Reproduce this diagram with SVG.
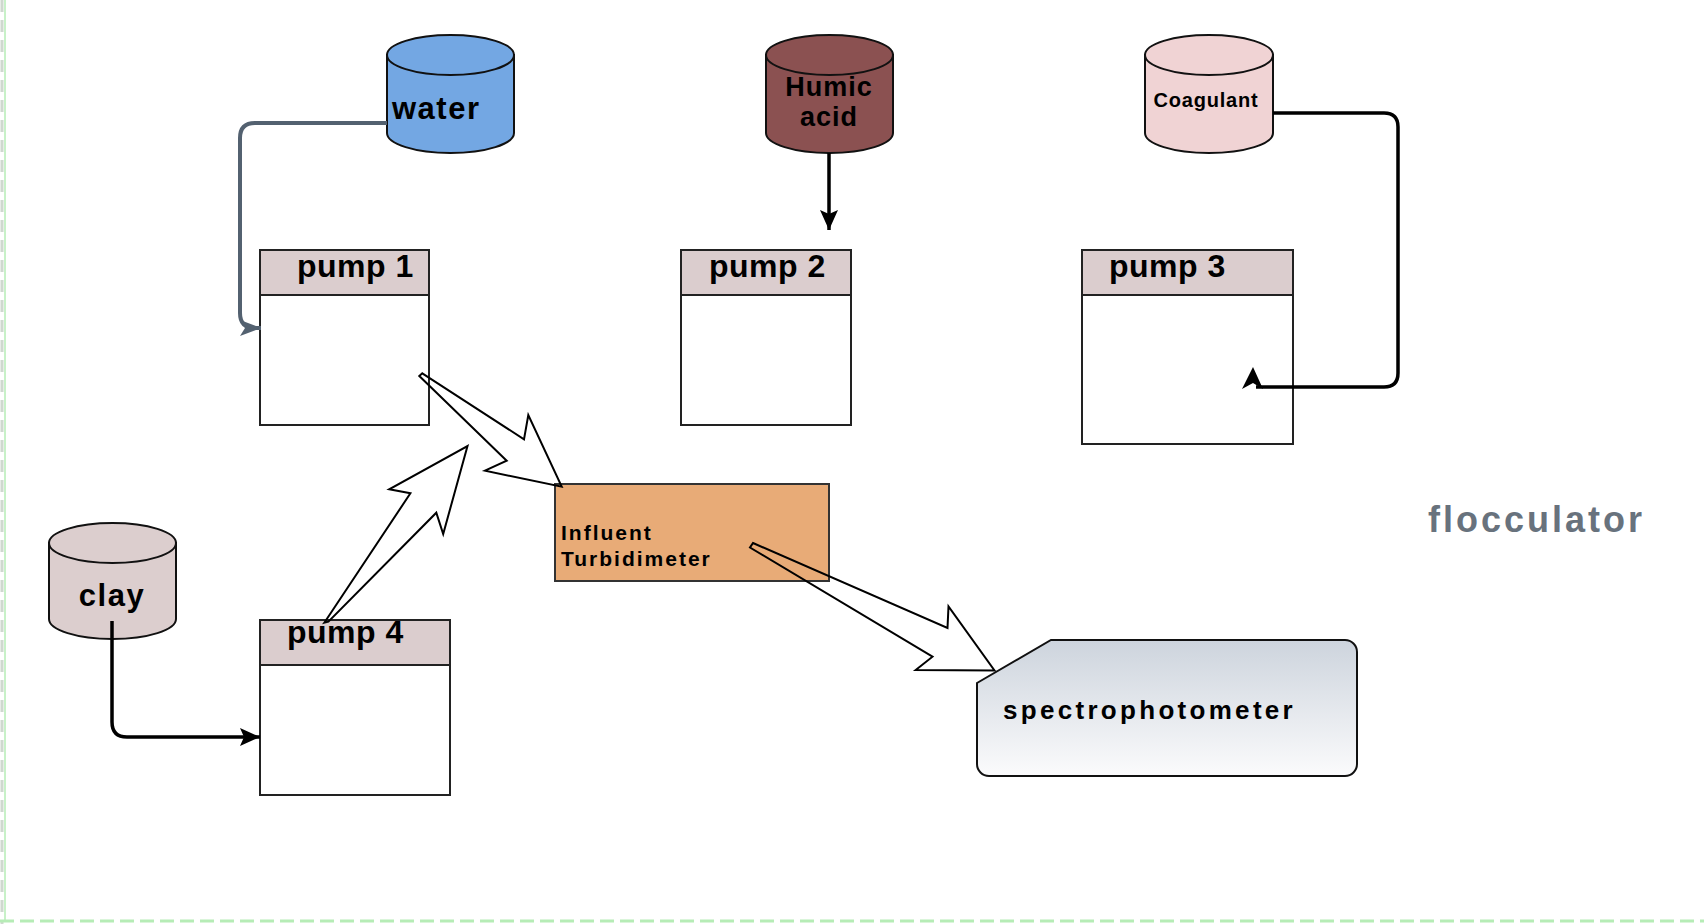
<svg xmlns="http://www.w3.org/2000/svg" width="1704" height="924" viewBox="0 0 1704 924">
<style>
.cyl{stroke:#111;stroke-width:2}
.hdr{fill:#dbcdce;stroke:#222;stroke-width:2}
.body{fill:#fff;stroke:#222;stroke-width:2}
.t{font-family:"Liberation Sans",Arial,sans-serif;font-weight:bold;fill:#000}
.pt{font-size:32px;letter-spacing:0.5px}
.blk{fill:none;stroke:#000;stroke-width:2;stroke-linejoin:miter}
.ln{fill:none;stroke:#000;stroke-width:3.5}
</style>
<defs>
<marker id="ah" markerUnits="userSpaceOnUse" markerWidth="22" markerHeight="22" viewBox="0 -11 22 22" refX="20" refY="0" orient="auto">
<path d="M0,-9 L20,0 L0,9 L4,0 Z" fill="#000"/>
</marker>
<marker id="ahg" markerUnits="userSpaceOnUse" markerWidth="24" markerHeight="22" viewBox="0 -11 24 22" refX="21" refY="0" orient="auto">
<path d="M0,-8 L21,0 L0,8 L5,0 Z" fill="#536170"/>
</marker>
<linearGradient id="sg" x1="0" y1="0" x2="0" y2="1">
<stop offset="0" stop-color="#cdd4dd"/>
<stop offset="1" stop-color="#fbfbfc"/>
</linearGradient>
</defs>
<rect width="1704" height="924" fill="#fff"/>
<line x1="2" y1="0" x2="2" y2="924" stroke="#cfd8cf" stroke-width="3" stroke-dasharray="12,8"/>
<line x1="5" y1="0" x2="5" y2="921" stroke="#b6ecb6" stroke-width="1.5"/>
<line x1="0" y1="921" x2="1704" y2="921" stroke="#b6ecb6" stroke-width="3" stroke-dasharray="14,6"/>

<g id="water">
<path class="cyl" fill="#73a7e3" d="M387,55 V133 A63.5,20 0 0 0 514,133 V55 Z"/>
<ellipse class="cyl" fill="#73a7e3" cx="450.5" cy="55" rx="63.5" ry="20"/>
<text class="t" x="392" y="119" font-size="31" letter-spacing="1.5">water</text>
</g>
<g id="humic">
<path class="cyl" fill="#8b5151" d="M766,55 V133 A63.5,20 0 0 0 893,133 V55 Z"/>
<ellipse class="cyl" fill="#8b5151" cx="829.5" cy="55" rx="63.5" ry="20"/>
<text class="t" x="829" y="96" font-size="27" letter-spacing="1" text-anchor="middle">Humic</text>
<text class="t" x="829" y="126" font-size="27" letter-spacing="1" text-anchor="middle">acid</text>
</g>
<g id="coagulant">
<path class="cyl" fill="#f0d3d4" d="M1145,55 V133 A64,20 0 0 0 1273,133 V55 Z"/>
<ellipse class="cyl" fill="#f0d3d4" cx="1209" cy="55" rx="64" ry="20"/>
<text class="t" x="1206" y="107" font-size="20" letter-spacing="0.8" text-anchor="middle">Coagulant</text>
</g>
<g id="clay">
<path class="cyl" fill="#dccece" d="M49,543 V619 A63.5,20 0 0 0 176,619 V543 Z"/>
<ellipse class="cyl" fill="#dccece" cx="112.5" cy="543" rx="63.5" ry="20"/>
<text class="t" x="112" y="606" font-size="31" letter-spacing="1.5" text-anchor="middle">clay</text>
</g>

<g id="pump1">
<rect class="body" x="260" y="250" width="169" height="175"/>
<rect class="hdr" x="260" y="250" width="169" height="45"/>
<text class="t pt" x="297" y="277">pump 1</text>
</g>
<g id="pump2">
<rect class="body" x="681" y="250" width="170" height="175"/>
<rect class="hdr" x="681" y="250" width="170" height="45"/>
<text class="t pt" x="709" y="277">pump 2</text>
</g>
<g id="pump3">
<rect class="body" x="1082" y="250" width="211" height="194"/>
<rect class="hdr" x="1082" y="250" width="211" height="45"/>
<text class="t pt" x="1109" y="277">pump 3</text>
</g>
<g id="pump4">
<rect class="body" x="260" y="620" width="190" height="175"/>
<rect class="hdr" x="260" y="620" width="190" height="45"/>
<text class="t pt" x="287" y="643">pump 4</text>
</g>

<g id="turbidimeter">
<rect x="555" y="484" width="274" height="97" fill="#e8ab77" stroke="#333" stroke-width="2"/>
<text class="t" x="561" y="540" font-size="21" letter-spacing="2">Influent</text>
<text class="t" x="561" y="566" font-size="21" letter-spacing="2">Turbidimeter</text>
</g>

<g id="spectrophotometer">
<path d="M977,683 L1051,640 H1345 A12,12 0 0 1 1357,652 V764 A12,12 0 0 1 1345,776 H989 A12,12 0 0 1 977,764 Z" fill="url(#sg)" stroke="#111" stroke-width="2"/>
<text class="t" x="1003" y="719" font-size="26" letter-spacing="3.3">spectrophotometer</text>
</g>

<g id="flocculator">
<text class="t" x="1428" y="532" font-size="36" letter-spacing="3" style="fill:#68727d">flocculator</text>
</g>

<g id="connectors">
<path d="M387,123 H255 Q240,123 240,138 V313 Q240,328 255,328 H261" fill="none" stroke="#536170" stroke-width="4" marker-end="url(#ahg)"/>
<path class="ln" d="M829,153 V230" marker-end="url(#ah)"/>
<path class="ln" d="M112,621 V722 Q112,737 127,737 H260" marker-end="url(#ah)"/>
<path class="ln" d="M1273,113 H1384 Q1398,113 1398,127 V373 Q1398,387 1384,387 H1256"/>
<polygon points="1253,367 1242,389 1253,383 1263,389" fill="#000"/>
<polygon class="blk" points="422.3,373.3 524,439.3 528.3,415 561.7,486.7 485,470.7 506.7,460.7 419.3,376"/>
<polygon class="blk" points="324.3,622.7 410.4,493.3 389.2,489.3 467.5,446 443.2,534 436.3,512.7 328.4,621.7"/>
<polygon class="blk" points="753,543 947.5,628 948.5,606.5 994.5,670.5 915.7,670 932.5,656.7 750,547.5"/>
</g>
</svg>
